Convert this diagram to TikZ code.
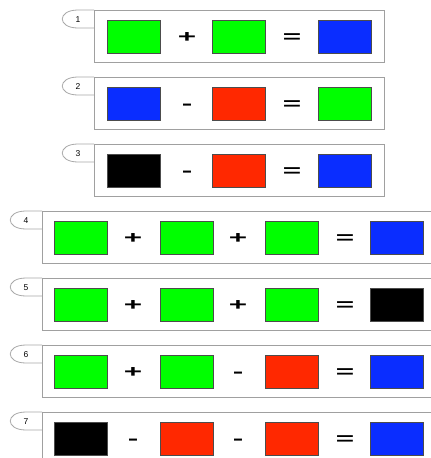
\documentclass[tikz,border=0pt]{standalone}
\usepackage{fontspec}
\setsansfont{Liberation Sans}
\definecolor{boxgreen}{HTML}{00FF00}
\definecolor{boxblue}{HTML}{0A2DFF}
\definecolor{boxred}{HTML}{FF2800}
\definecolor{framegray}{HTML}{A0A0A0}
\definecolor{tabgray}{HTML}{A8A8A8}
\tikzset{
  cell/.style={draw=black!70, line width=0.5pt, minimum width=53pt, minimum height=33pt, inner sep=0pt},
  op/.style={font=\fontsize{17}{17}\sffamily\bfseries, anchor=base, inner sep=0pt, xscale=1.85},
  frame/.style={draw=framegray, line width=0.9pt},
  tab/.style={draw=tabgray, line width=0.8pt},
  tabnum/.style={font=\fontsize{8.5}{8.5}\sffamily, inner sep=0pt}
}
\begin{document}
\begin{tikzpicture}[x=1pt,y=-1pt]
  \useasboundingbox (0,0) rectangle (431,458);
  \clip (0,0) rectangle (431,458);

  % rows 1-3: two cells and a result
  \foreach \r/\y/\ca/\opsym/\cb/\cc in {1/10/boxgreen/+/boxgreen/boxblue,
      2/77/boxblue/-/boxred/boxgreen, 3/144/black/-/boxred/boxblue} {
    \draw[frame] (94,\y) rectangle (384,\y+52);
    \draw[tab] (94,\y) -- (78,\y) .. controls (57,\y) and (57,\y+18) .. (78,\y+18) -- (94,\y+18);
    \node[tabnum] (n\r) at (78,\y+9.5) {\r};
    \node[cell, fill=\ca] (c\r-a) at (134,\y+26.5) {};
    \node[op] (o\r-a) at (187,\y+32.3) {\opsym};
    \node[cell, fill=\cb] (c\r-b) at (238.5,\y+26.5) {};
    \node[op] (o\r-b) at (292,\y+32.3) {=};
    \node[cell, fill=\cc] (c\r-c) at (344.5,\y+26.5) {};
  }

  % rows 4-7: three cells and a result
  \foreach \r/\y/\ca/\opa/\cb/\opb/\cc/\cd in {4/211/boxgreen/+/boxgreen/+/boxgreen/boxblue,
      5/278/boxgreen/+/boxgreen/+/boxgreen/black,
      6/345/boxgreen/+/boxgreen/-/boxred/boxblue,
      7/412/black/-/boxred/-/boxred/boxblue} {
    \draw[frame] (42,\y) rectangle (460,\y+52);
    \draw[tab] (42,\y) -- (26,\y) .. controls (5,\y) and (5,\y+18) .. (26,\y+18) -- (42,\y+18);
    \node[tabnum] (n\r) at (26,\y+9.5) {\r};
    \node[cell, fill=\ca] (c\r-a) at (80.5,\y+26.5) {};
    \node[op] (o\r-a) at (133,\y+32.3) {\opa};
    \node[cell, fill=\cb] (c\r-b) at (186.5,\y+26.5) {};
    \node[op] (o\r-b) at (238,\y+32.3) {\opb};
    \node[cell, fill=\cc] (c\r-c) at (291.5,\y+26.5) {};
    \node[op] (o\r-c) at (345,\y+32.3) {=};
    \node[cell, fill=\cd] (c\r-d) at (396.5,\y+26.5) {};
  }
\end{tikzpicture}
\end{document}
